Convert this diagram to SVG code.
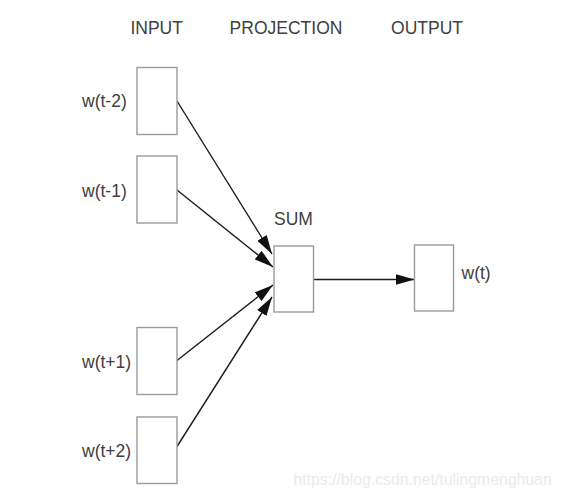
<svg xmlns="http://www.w3.org/2000/svg" width="561" height="497" viewBox="0 0 561 497">
<style>
text{font-family:"Liberation Sans",Arial,sans-serif;font-size:17.5px;fill:#404040}
.h{text-anchor:middle}
.box{fill:#fff;stroke:#9a9a9a;stroke-width:1.4}
.edge{stroke:#1a1a1a;stroke-width:1.4;fill:none;marker-end:url(#ah)}
.wm{font-size:15.8px;fill:#ebebeb}
</style>
<defs>
<marker id="ah" markerUnits="userSpaceOnUse" markerWidth="19" markerHeight="12" refX="19" refY="6" orient="auto">
<path d="M0,0.5 L19,6 L0,11.5 z" fill="#111"/>
</marker>
</defs>
<rect width="561" height="497" fill="#fff"/>
<g id="headers">
<text class="h" x="156.7" y="34">INPUT</text>
<text class="h" x="286" y="34">PROJECTION</text>
<text class="h" x="427" y="34">OUTPUT</text>
</g>
<g id="connectors">
<line class="edge" x1="177" y1="101" x2="272" y2="254"/>
<line class="edge" x1="177" y1="190" x2="273" y2="267"/>
<line class="edge" x1="177" y1="360.5" x2="273" y2="285"/>
<line class="edge" x1="177" y1="446.5" x2="272" y2="297"/>
<line class="edge" x1="313.5" y1="279.5" x2="414.5" y2="279.5"/>
</g>
<g id="w_t-2">
<rect class="box" x="137" y="67.5" width="40" height="67"/>
<text x="82" y="107">w(t-2)</text>
</g>
<g id="w_t-1">
<rect class="box" x="137" y="156" width="40" height="67"/>
<text x="82" y="196.5">w(t-1)</text>
</g>
<g id="w_t+1">
<rect class="box" x="137" y="327.5" width="40" height="67"/>
<text x="82" y="367.5">w(t+1)</text>
</g>
<g id="w_t+2">
<rect class="box" x="137" y="417" width="40" height="66.5"/>
<text x="82" y="456.5">w(t+2)</text>
</g>
<g id="sum">
<rect class="box" x="274" y="246" width="39.5" height="66"/>
<text x="274" y="225">SUM</text>
</g>
<g id="w_t">
<rect class="box" x="414.5" y="245" width="39" height="66"/>
<text x="461.5" y="279">w(t)</text>
</g>
<text class="wm" x="293.5" y="484.5">https://blog.csdn.net/tulingmenghuan</text>
</svg>
